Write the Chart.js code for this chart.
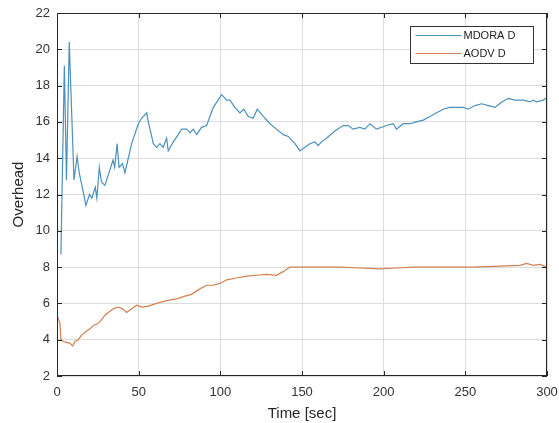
<!DOCTYPE html>
<html>
<head>
<meta charset="utf-8">
<script src="https://cdn.jsdelivr.net/npm/chart.js@4/dist/chart.umd.min.js"></script>
<style>
  html, body { margin: 0; padding: 0; background: #fff; }
  #wrap { width: 559px; height: 423px; }
</style>
</head>
<body>
<div id="wrap"><canvas id="myChart"></canvas></div>
<script>
// time values (sec) and overhead
var mdoraT = [2.4, 4.5, 5.8, 7.5, 10.4, 12.3, 13.6, 15.7, 17.7, 19.9, 21.3, 23.4, 24.4, 25.9, 27.2, 29.3,
  32.2, 34.3, 35.3, 36.8, 38.0, 40.1, 41.6, 45.7, 49.8, 51.8, 54.9, 55.9, 59, 61, 63, 65, 67.1, 68.1,
  71.2, 74.2, 76.3, 79.4, 81.4, 83.4, 85.5, 88.5, 91.6, 95.7, 100.8, 103.9, 105.9, 108.9, 112, 114.4,
  117.1, 120.1, 122.6, 126.3, 130.4, 134.4, 138.5, 141.6, 145.7, 148.7, 151.8, 154.8, 157.9, 159.9,
  162, 165, 170.1, 175.2, 178.3, 181.3, 185.4, 188.5, 191.6, 195.6, 201.8, 205.8, 207.9, 211.9, 216,
  220.1, 224.2, 228.3, 232.4, 236.4, 240.5, 244.6, 248.7, 251.8, 255.9, 260, 264.1, 268.2, 272.3,
  276.3, 280.4, 285.5, 289.6, 291.6, 293.6, 297.7, 299.5];
var mdoraY = [8.7, 19.1, 12.8, 20.4, 12.8, 14.1, 13.2, 12.3, 11.4, 12.0, 11.8, 12.4, 11.8, 13.5, 12.7, 12.5,
  13.3, 13.9, 13.5, 14.8, 13.5, 13.7, 13.2, 14.8, 15.9, 16.2, 16.5, 16.0, 14.8, 14.6, 14.8, 14.6, 15.1, 14.4,
  14.9, 15.3, 15.6, 15.6, 15.4, 15.6, 15.3, 15.7, 15.8, 16.8, 17.5, 17.2, 17.2, 16.8, 16.5, 16.7,
  16.3, 16.2, 16.7, 16.3, 15.9, 15.6, 15.3, 15.2, 14.8, 14.4, 14.6, 14.8, 14.9, 14.7,
  14.9, 15.1, 15.5, 15.8, 15.8, 15.6, 15.7, 15.6, 15.9, 15.6, 15.8, 15.9, 15.6, 15.9, 15.9,
  16.0, 16.1, 16.3, 16.5, 16.7, 16.8, 16.8, 16.8, 16.7, 16.9, 17.0, 16.9, 16.8, 17.1,
  17.3, 17.2, 17.2, 17.1, 17.2, 17.1, 17.2, 17.3];

var aodvT = [0.3, 1.8, 2.4, 3.9, 5.9, 8.0, 9.6, 11, 13, 15.1, 17.7, 20.2, 22.6, 25.3, 27.3, 29.4, 31.4,
  34.5, 37.5, 40.2, 42.6, 45.7, 48.8, 51.8, 55.9, 61, 67.1, 73.2, 78.3, 82.4, 87.5, 91.6, 95.7, 99.8,
  103.9, 110, 116.1, 122.2, 128.4, 134.4, 138.5, 142.6, 145.7, 156.9, 173.2, 185.4, 197.6, 207.9,
  218.1, 238.5, 254.8, 271.1, 283.4, 287.5, 291.6, 295.7, 299.8];
var aodvY = [5.3, 4.9, 4.0, 3.9, 3.85, 3.8, 3.65, 3.9, 4.0, 4.25, 4.45, 4.6, 4.8, 4.9, 5.1, 5.35, 5.5,
  5.7, 5.8, 5.7, 5.5, 5.7, 5.9, 5.8, 5.85, 6.0, 6.15, 6.25, 6.4, 6.5, 6.8, 7.0, 7.0, 7.1,
  7.3, 7.4, 7.5, 7.55, 7.6, 7.55, 7.75, 8.0, 8.0, 8.0, 8.0, 7.95, 7.9, 7.95,
  8.0, 8.0, 8.0, 8.05, 8.1, 8.2, 8.1, 8.15, 8.0];

var seriesNames = ["MDORA D", "AODV D"];
var lineColors = ["#4a90bd", "#d2804f"];
var xTicks = [0, 50, 100, 150, 200, 250, 300];
var yTicks = [2, 4, 6, 8, 10, 12, 14, 16, 18, 20, 22];

var fontFam = '"Liberation Sans", Arial, sans-serif';

function pts(xs, ys) {
  return xs.map(function (x, i) { return { x: x, y: ys[i] }; });
}

// matlab style box, inward ticks and legend inside the axes
var matlabBox = {
  id: 'matlabBox',
  afterDraw: function (chart) {
    var ctx = chart.ctx, a = chart.chartArea;
    var xs = chart.scales.x, ys = chart.scales.y;
    ctx.save();
    ctx.strokeStyle = '#262626';
    ctx.lineWidth = 1;
    ctx.strokeRect(a.left + 0.5, a.top + 0.5, a.right - a.left - 1, a.bottom - a.top - 1);
    ctx.beginPath();
    xTicks.forEach(function (t) {
      var px = Math.round(xs.getPixelForValue(t)) + 0.5;
      ctx.moveTo(px, a.bottom); ctx.lineTo(px, a.bottom - 5);
      ctx.moveTo(px, a.top); ctx.lineTo(px, a.top + 5);
    });
    yTicks.forEach(function (t) {
      var py = Math.round(ys.getPixelForValue(t)) + 0.5;
      ctx.moveTo(a.left, py); ctx.lineTo(a.left + 5, py);
      ctx.moveTo(a.right, py); ctx.lineTo(a.right - 5, py);
    });
    ctx.stroke();

    // legend
    var bx = 410.5, by = 26.5, bw = 123, bh = 37;
    ctx.fillStyle = '#fff';
    ctx.fillRect(bx, by, bw, bh);
    ctx.strokeStyle = '#333';
    ctx.strokeRect(bx, by, bw, bh);
    ctx.font = '11px ' + fontFam;
    ctx.textBaseline = 'middle';
    chart.data.datasets.forEach(function (ds, i) {
      var ly = by + 9 + i * 18;
      ctx.strokeStyle = ds.borderColor;
      ctx.beginPath();
      ctx.moveTo(bx + 5, ly); ctx.lineTo(bx + 51, ly);
      ctx.stroke();
      ctx.fillStyle = '#222';
      ctx.fillText(ds.label, bx + 53, ly);
    });
    ctx.restore();
  }
};

new Chart("myChart", {
  type: "line",
  data: {
    datasets: [{
      label: seriesNames[0],
      data: pts(mdoraT, mdoraY),
      borderColor: lineColors[0],
      borderWidth: 1.2,
      pointRadius: 0,
      tension: 0
    }, {
      label: seriesNames[1],
      data: pts(aodvT, aodvY),
      borderColor: lineColors[1],
      borderWidth: 1.2,
      pointRadius: 0,
      tension: 0
    }]
  },
  options: {
    responsive: true,
    maintainAspectRatio: false,
    animation: false,
    layout: { padding: { top: 13, right: 12, left: 6, bottom: 0 } },
    plugins: {
      legend: { display: false },
      tooltip: { enabled: false }
    },
    scales: {
      x: {
        type: 'linear',
        min: 0, max: 300,
        afterBuildTicks: function (s) { s.ticks = xTicks.map(function (v) { return { value: v }; }); },
        afterFit: function (s) { s.height = 47; s.paddingLeft = 0; s.paddingRight = 0; },
        grid: { color: '#dcdcdc', drawTicks: false },
        border: { display: false },
        ticks: { color: '#333', padding: 9, font: { size: 13, family: fontFam } },
        title: { display: true, text: 'Time [sec]', color: '#262626', padding: { top: 0, bottom: 0 }, font: { size: 15, family: fontFam } }
      },
      y: {
        min: 2, max: 22,
        afterBuildTicks: function (s) { s.ticks = yTicks.map(function (v) { return { value: v }; }); },
        afterFit: function (s) { s.width = 51; s.paddingTop = 0; s.paddingBottom = 0; },
        grid: { color: '#dcdcdc', drawTicks: false },
        border: { display: false },
        ticks: { color: '#333', padding: 7, font: { size: 13, family: fontFam } },
        title: { display: true, text: 'Overhead', color: '#262626', padding: { bottom: 2 }, font: { size: 15, family: fontFam } }
      }
    }
  },
  plugins: [matlabBox]
});
</script>
</body>
</html>
